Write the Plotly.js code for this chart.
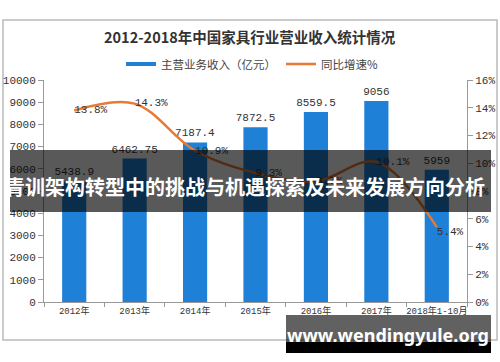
<!DOCTYPE html>
<html>
<head>
<meta charset="utf-8">
<script src="https://cdn.plot.ly/plotly-3.0.1.min.js"></script>
<style>html,body{margin:0;padding:0;background:#fff;}#chart{width:500px;height:362px;}</style>
</head>
<body>
<div id="chart"></div>
<script>
// ---- data ----
const categories = ["2012年", "2013年", "2014年", "2015年", "2016年", "2017年", "2018年1-10月"];
const revenue = [5438.9, 6462.75, 7187.4, 7872.5, 8559.5, 9056, 5959];
const growth = [13.8, 14.3, 10.9, 9.3, 8.7, 10.1, 5.4];
const growthLabels = ["13.8%", "14.3%", "10.9%", "9.3%", "8.7%", "10.1%", "5.4%"];
const seriesNames = ["主营业务收入（亿元）", "同比增速%"];
const chartTitle = "2012-2018年中国家具行业营业收入统计情况";
const bannerText = "青训架构转型中的挑战与机遇探索及未来发展方向分析";
const footerText = "www.wendingyule.org";

// ---- layout helpers (pixel -> paper) ----
const L = 44, R = 467, T = 80, B = 302;
const px = v => (v - L) / (R - L);
const py = v => (B - v) / (B - T);

const blue = "rgb(30,128,214)";
const orange = "rgb(232,122,52)";
const mono = "Liberation Mono, Noto Sans CJK SC, monospace";

const traces = [
  {
    type: "bar", x: categories, y: revenue, name: seriesNames[0], showlegend: false,
    marker: {color: blue}, width: 0.4,
    text: revenue.map(String), textposition: "outside", cliponaxis: false, constraintext: "none",
    textfont: {family: mono, size: 11, color: "#333"}
  },
  {
    type: "scatter", mode: "lines", x: [null], y: [null], name: seriesNames[0],
    line: {color: blue, width: 4}, showlegend: true, hoverinfo: "skip"
  },
  {
    type: "scatter", mode: "lines+text", x: categories, y: growth, yaxis: "y2", name: seriesNames[1],
    line: {color: orange, width: 2.5, shape: "spline", smoothing: 1},
    text: growthLabels,
    textposition: ["middle right", "middle right", "middle right", "middle right", "middle right", "middle right", "bottom right"],
    textfont: {family: mono, size: 11, color: "#333"}, cliponaxis: false
  }
];

const layout = {
  width: 500, height: 362,
  margin: {l: L, r: 500 - R, t: T, b: 362 - B},
  paper_bgcolor: "#fff", plot_bgcolor: "#fff",
  showlegend: true,
  legend: {orientation: "h", x: px(252), xanchor: "center", y: py(64), yanchor: "middle",
    font: {family: "Noto Sans CJK SC", size: 11.5, color: "#444"}, itemwidth: 30, tracegroupgap: 0},
  xaxis: {type: "category", showline: true, linecolor: "#999", ticks: "outside", tickson: "boundaries",
    ticklen: 4, tickcolor: "#999", tickangle: 0, tickfont: {family: mono, size: 9, color: "#333"},
    showgrid: false, zeroline: false},
  yaxis: {range: [0, 10000], dtick: 1000, tickformat: "d", showline: true, linecolor: "#999", ticks: "outside", ticklen: 5,
    tickcolor: "#999", tickfont: {family: mono, size: 11, color: "#333"}, showgrid: false, zeroline: false},
  yaxis2: {range: [0, 16], dtick: 2, ticksuffix: "%", overlaying: "y", side: "right", showline: true,
    linecolor: "#999", ticks: "outside", ticklen: 5, tickcolor: "#999",
    tickfont: {family: mono, size: 11, color: "#333"}, showgrid: false, zeroline: false},
  shapes: [
    {type: "rect", xref: "paper", yref: "paper", x0: px(3), x1: px(497), y0: py(20), y1: py(340),
      line: {color: "#bbb", width: 1.5}, fillcolor: "rgba(0,0,0,0)", layer: "below"},
    {type: "rect", xref: "paper", yref: "paper", x0: px(10), x1: px(491), y0: py(150), y1: py(212),
      line: {width: 0}, fillcolor: "rgba(0,0,0,0.65)", layer: "above"},
    {type: "rect", xref: "paper", yref: "paper", x0: px(286), x1: px(491), y0: py(315), y1: py(342),
      line: {width: 0}, fillcolor: "rgba(0,0,0,0.62)", layer: "above"},
    {type: "rect", xref: "paper", yref: "paper", x0: px(286), x1: px(491), y0: py(342), y1: py(353),
      line: {width: 0}, fillcolor: "rgb(0,0,0)", layer: "above"}
  ],
  annotations: [
    {text: "<b>" + chartTitle + "</b>", xref: "paper", yref: "paper", x: px(250), y: py(36),
      xanchor: "center", yanchor: "middle", showarrow: false,
      font: {family: "Noto Sans CJK SC", size: 14.5, color: "#333"}},
    {text: "<b>" + bannerText + "</b>", xref: "paper", yref: "paper", x: px(245), y: py(186),
      xanchor: "center", yanchor: "middle", showarrow: false,
      font: {family: "Noto Sans CJK SC", size: 20, color: "#fff"}},
    {text: "<b>" + footerText + "</b>", xref: "paper", yref: "paper", x: px(388), y: py(335),
      xanchor: "center", yanchor: "middle", showarrow: false,
      font: {family: "Noto Sans, Open Sans", size: 18, color: "#fff"}}
  ]
};

Plotly.newPlot("chart", traces, layout, {displayModeBar: false, staticPlot: true});
</script>
</body>
</html>
